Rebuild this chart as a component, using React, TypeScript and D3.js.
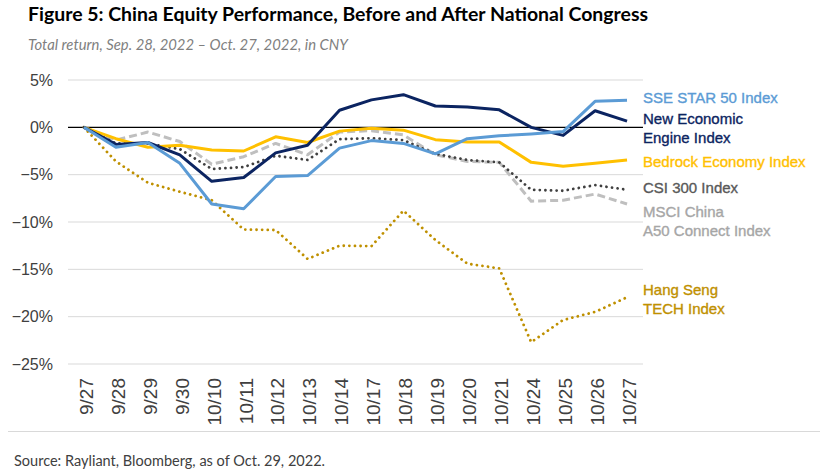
import React from "react";
import * as d3 from "d3";

const dates = ["9/27","9/28","9/29","9/30","10/10","10/11","10/12","10/13","10/14","10/17","10/18","10/19","10/20","10/21","10/24","10/25","10/26","10/27"];

const sseStar = [0, -2.1, -1.6, -3.8, -8.1, -8.6, -5.2, -5.1, -2.2, -1.4, -1.7, -2.8, -1.2, -0.9, -0.7, -0.45, 2.75, 2.85];
const newEcon = [0, -1.8, -1.6, -2.9, -5.7, -5.3, -2.7, -1.9, 1.8, 2.9, 3.45, 2.25, 2.15, 1.85, 0.0, -0.85, 1.75, 0.65];
const bedrock = [0, -1.2, -2.1, -1.9, -2.4, -2.5, -1.0, -1.6, -0.4, -0.1, -0.3, -1.3, -1.55, -1.55, -3.7, -4.1, -3.8, -3.45];
const csi300 = [0, -1.7, -1.7, -2.3, -4.4, -4.2, -3.0, -3.45, -1.25, -1.15, -1.35, -2.8, -3.45, -3.7, -6.6, -6.7, -6.1, -6.6];
const msciA50 = [0, -1.35, -0.5, -1.5, -3.9, -3.1, -1.7, -2.9, -0.5, -0.35, -0.8, -2.9, -3.6, -3.7, -7.8, -7.7, -7.05, -8.1];
const hsTech = [0, -3.6, -5.85, -6.8, -7.7, -10.8, -10.85, -13.9, -12.5, -12.55, -8.8, -11.9, -14.4, -14.9, -22.7, -20.35, -19.5, -17.95];

const yTicks = [5, 0, -5, -10, -15, -20, -25];

const title = "Figure 5: China Equity Performance, Before and After National Congress";
const subtitle = "Total return, Sep. 28, 2022 \u2013 Oct. 27, 2022, in CNY";
const source = "Source: Rayliant, Bloomberg, as of Oct. 29, 2022.";

type Series = { name: string; values: number[]; color: string; labelColor: string; width: number; dash?: string; cap?: string; label: string[]; labelY: number[] };

const series: Series[] = [
  { name: "hs", values: hsTech, color: "#BF9000", labelColor: "#BF9000", width: 2.8, dash: "0.01 5.6", cap: "round", label: ["Hang Seng", "TECH Index"], labelY: [295, 314] },
  { name: "msci", values: msciA50, color: "#BFBFBF", labelColor: "#A6A6A6", width: 3, dash: "8 4", cap: "butt", label: ["MSCI China", "A50 Connect Index"], labelY: [216.7, 235.7] },
  { name: "csi", values: csi300, color: "#404040", labelColor: "#595959", width: 2.8, dash: "0.01 5.6", cap: "round", label: ["CSI 300 Index"], labelY: [192.7] },
  { name: "bedrock", values: bedrock, color: "#FFC000", labelColor: "#FFC000", width: 3, label: ["Bedrock Economy Index"], labelY: [166.7] },
  { name: "newecon", values: newEcon, color: "#0B2461", labelColor: "#0B2461", width: 3, label: ["New Economic", "Engine Index"], labelY: [124, 143] },
  { name: "sse", values: sseStar, color: "#5B9BD5", labelColor: "#5B9BD5", width: 3, label: ["SSE STAR 50 Index"], labelY: [102.7] },
];

export default function App() {
  const W = 830, H = 476;
  const left = 68, right = 643, top = 80, bottom = 364;
  const x = d3.scaleBand<string>().domain(dates).range([left, right]).padding(0);
  const cx = (d: string) => (x(d) as number) + x.bandwidth() / 2;
  const y = d3.scaleLinear().domain([-25, 5]).range([bottom, top]);
  const sans = "'Liberation Sans', Arial, sans-serif";
  const cal = "Lato, 'Open Sans', sans-serif";

  return (
    <svg width={W} height={H} style={{ position: "absolute", left: 0, top: 0, background: "#fff", display: "block" }}>
      <rect x={0} y={0} width={W} height={H} fill="#fff" />
      <text x={28} y={21} fontFamily={cal} fontWeight={700} fontSize={19} fill="#000" textLength={620} lengthAdjust="spacingAndGlyphs">{title}</text>
      <text x={28} y={50} fontFamily={cal} fontStyle="italic" fontSize={14.5} fill="#7F7F7F" textLength={320} lengthAdjust="spacingAndGlyphs">{subtitle}</text>

      {yTicks.map((t) => (
        <g key={t}>
          {t !== 0 && <line x1={left} x2={right} y1={y(t)} y2={y(t)} stroke="#D9D9D9" strokeWidth={1} />}
          <text x={53} y={y(t)} dy="0.36em" textAnchor="end" fontFamily={sans} fontSize={16} fill="#404040">
            {(t < 0 ? "\u2212" + Math.abs(t) : String(t)) + "%"}
          </text>
        </g>
      ))}
      <line x1={left} x2={right} y1={y(0)} y2={y(0)} stroke="#000" strokeWidth={1.2} />

      {dates.map((d) => (
        <text key={d} transform={`translate(${cx(d) + 2},378) rotate(-90)`} textAnchor="end" dy="0.36em" fontFamily={sans} fontSize={19} fill="#404040">{d}</text>
      ))}

      {series.map((s) => {
        const line = d3.line<number>().x((_, i) => cx(dates[i])).y((v) => y(v));
        return (
          <path key={s.name} d={line(s.values) || ""} fill="none" stroke={s.color} strokeWidth={s.width}
            strokeDasharray={s.dash} strokeLinecap={(s.cap as any) || "butt"} strokeLinejoin="round" />
        );
      })}

      {series.map((s) => s.label.map((l, i) => (
        <text key={s.name + i} x={643} y={s.labelY[i]} fontFamily={sans} fontSize={15} fill={s.labelColor}
          stroke={s.labelColor} strokeWidth={0.35}>{l}</text>
      )))}

      <line x1={8} x2={820} y1={431.5} y2={431.5} stroke="#D9D9D9" strokeWidth={1} />
      <text x={14} y={466} fontFamily={cal} fontSize={14.5} fill="#404040" textLength={311} lengthAdjust="spacingAndGlyphs">{source}</text>
    </svg>
  );
}
